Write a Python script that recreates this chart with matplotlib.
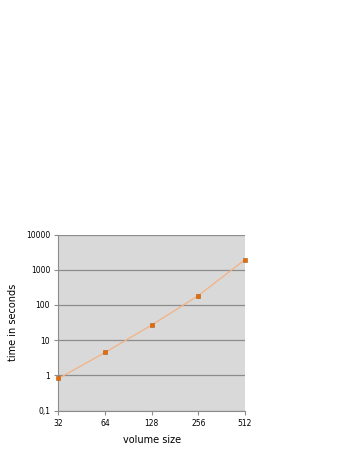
import matplotlib
matplotlib.use("Agg")
import matplotlib.pyplot as plt
from matplotlib.ticker import FixedLocator, FixedFormatter, NullLocator

volume_sizes = [32, 64, 128, 256, 512]
times = [0.82, 4.5, 27, 185, 1940]
x_tick_labels = ["32", "64", "128", "256", "512"]
y_ticks = [0.1, 1, 10, 100, 1000, 10000]
y_tick_labels = ["0,1", "1", "10", "100", "1000", "10000"]

fig = plt.figure(figsize=(3.49, 4.51), dpi=100)
ax = fig.add_axes([0.1676, 0.0894, 0.5344, 0.3906])
ax.set_facecolor("#d9d9d9")
ax.set_xscale("log", base=2)
ax.set_yscale("log")
ax.set_xlim(32, 512)
ax.set_ylim(0.1, 10000)

ax.xaxis.set_major_locator(FixedLocator(volume_sizes))
ax.xaxis.set_major_formatter(FixedFormatter(x_tick_labels))
ax.xaxis.set_minor_locator(NullLocator())
ax.yaxis.set_major_locator(FixedLocator(y_ticks))
ax.yaxis.set_major_formatter(FixedFormatter(y_tick_labels))
ax.yaxis.set_minor_locator(NullLocator())

ax.grid(axis="y", color="#8c8c8c", linewidth=0.9)
ax.set_axisbelow(True)
for s in ["top", "right"]:
    ax.spines[s].set_visible(False)
ax.spines["left"].set_color("#8c8c8c")
ax.spines["bottom"].set_color("#8c8c8c")
ax.tick_params(axis="both", colors="#8c8c8c", labelcolor="black", labelsize=5.5,
               length=3, width=0.8, pad=3)

ax.plot(volume_sizes, times, color="#f4b183", linewidth=0.9,
        marker="s", markersize=3.2, markerfacecolor="#e46c0a",
        markeredgecolor="#b05a10", markeredgewidth=0.4, clip_on=False, zorder=3)

ax.set_xlabel("volume size", fontsize=7, labelpad=5)
ax.set_ylabel("time in seconds", fontsize=7, labelpad=6)

fig.savefig("out.png", dpi=100)
